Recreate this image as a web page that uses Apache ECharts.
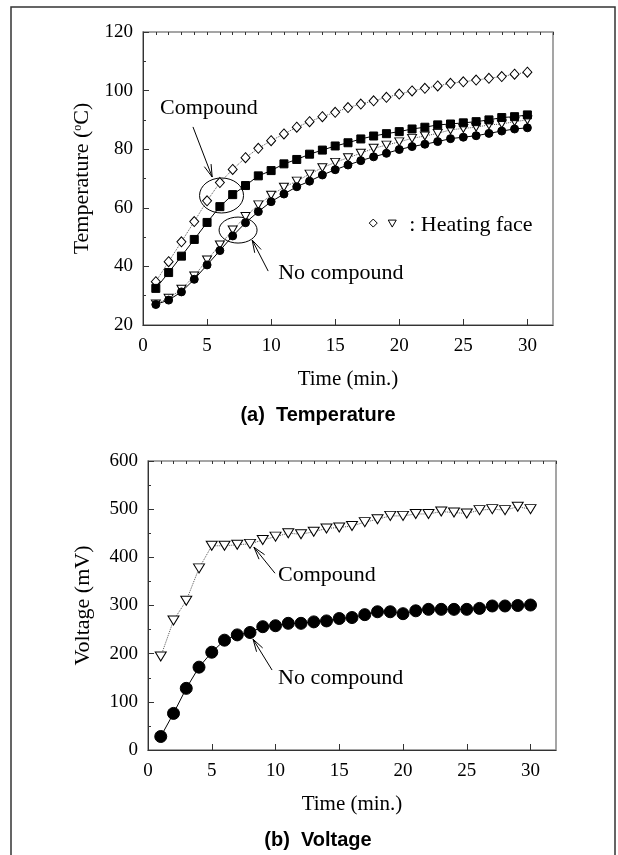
<!DOCTYPE html>
<html>
<head>
<meta charset="utf-8">
<script src="https://cdn.jsdelivr.net/npm/echarts@6/dist/echarts.min.js"></script>
<style>
html, body { margin: 0; padding: 0; background: #fff; }
#main { width: 618px; height: 855px; }
</style>
</head>
<body>
<div id="main"></div>
<script>
// time in minutes
var time = [1, 2, 3, 4, 5, 6, 7, 8, 9, 10, 11, 12, 13, 14, 15,
            16, 17, 18, 19, 20, 21, 22, 23, 24, 25, 26, 27, 28, 29, 30];

// (a) temperature, deg C
var tempCompHeat = [34.8, 41.6, 48.4, 55.3, 62.4, 68.6, 73.1, 77.1, 80.3, 82.9,
                    85.2, 87.5, 89.4, 91.1, 92.6, 94.2, 95.4, 96.5, 97.7, 98.8,
                    99.9, 100.8, 101.6, 102.5, 103.0, 103.6, 104.2, 104.8, 105.6, 106.3];
var tempComp = [32.5, 37.9, 43.5, 49.2, 55.0, 60.4, 64.5, 67.6, 70.9, 72.7,
                75.0, 76.5, 78.3, 79.7, 81.1, 82.2, 83.5, 84.5, 85.3, 86.0,
                86.9, 87.5, 88.3, 88.6, 89.0, 89.4, 90.0, 90.8, 91.1, 91.7];
var tempNoHeat = [27.2, 29.1, 32.2, 36.7, 42.2, 47.3, 52.4, 57.0, 61.0, 64.3,
                  67.0, 69.1, 71.5, 73.7, 75.5, 77.1, 78.6, 80.3, 81.4, 82.5,
                  83.7, 84.5, 85.4, 86.6, 87.1, 87.5, 88.3, 88.6, 89.4, 90.0];
var tempNo = [27.0, 28.5, 31.3, 35.6, 40.5, 45.4, 50.4, 54.9, 58.7, 62.1,
              64.7, 67.2, 69.1, 71.2, 73.0, 74.6, 76.1, 77.4, 78.6, 79.9,
              80.9, 81.7, 82.6, 83.6, 84.1, 84.6, 85.4, 86.2, 86.9, 87.3];

// (b) voltage, mV
var voltComp = [194, 269, 310, 377, 424, 424, 426, 428, 436, 443,
                450, 448, 453, 460, 462, 465, 473, 479, 486, 486,
                490, 490, 495, 493, 491, 498, 500, 498, 505, 500];
var voltNo = [28, 76, 128, 172, 203, 228, 239, 244, 256, 258,
              263, 263, 266, 268, 273, 275, 281, 287, 287, 283,
              289, 292, 292, 292, 292, 294, 299, 299, 300, 301];

var serif = '"Liberation Serif", "Times New Roman", serif';
var sans = '"Liberation Sans", Arial, sans-serif';

function pairs(ys) {
    return time.map(function (t, i) { return [t, ys[i]]; });
}

function xAxes(grid) {
    return [{
        gridIndex: grid, type: 'value', min: 0, max: 32, interval: 5,
        axisLine: { show: true, lineStyle: { color: '#333', width: 1 } },
        axisTick: { inside: true, length: 6, lineStyle: { color: '#333' } },
        axisLabel: { showMaxLabel: false, margin: 12, fontFamily: serif, fontSize: 19, color: '#000' },
        splitLine: { show: false },
        name: 'Time (min.)', nameLocation: 'middle', nameGap: 44,
        nameTextStyle: { fontFamily: serif, fontSize: 21, color: '#000' }
    }, {
        gridIndex: grid, type: 'value', min: 0, max: 32, interval: 1,
        axisLine: { show: false },
        axisTick: { inside: true, length: 3, lineStyle: { color: '#333' } },
        axisLabel: { show: false },
        splitLine: { show: false }
    }];
}

function yAxis(grid, min, max, step, name, gap) {
    return {
        gridIndex: grid, type: 'value', min: min, max: max, interval: step,
        axisLine: { show: true, lineStyle: { color: '#333', width: 1 } },
        axisTick: { inside: true, length: 6, lineStyle: { color: '#333' } },
        minorTick: { show: true, splitNumber: 2, length: 3, lineStyle: { color: '#333' } },
        axisLabel: { margin: 10, fontFamily: serif, fontSize: 19, color: '#000' },
        splitLine: { show: false },
        name: name, nameLocation: 'middle', nameGap: gap, nameRotate: 90,
        nameTextStyle: {
            fontFamily: serif, fontSize: 22, color: '#000',
            rich: { s: { fontFamily: serif, fontSize: 12, verticalAlign: 'top', color: '#000' } }
        }
    };
}

function line(name, xi, yi, ys, symbol, size, filled, dotted, rot) {
    return {
        name: name, type: 'line', xAxisIndex: xi, yAxisIndex: yi,
        data: pairs(ys), symbol: symbol, symbolSize: size, symbolRotate: rot || 0,
        showSymbol: true,
        itemStyle: { color: filled ? '#000' : '#fff', borderColor: '#000', borderWidth: 1 },
        lineStyle: { color: dotted ? '#555' : '#000', width: 1, type: dotted ? 'dotted' : 'solid' },
        emphasis: { disabled: true }
    };
}

var chart = echarts.init(document.getElementById('main'));

var option = {
    animation: false,
    backgroundColor: '#fff',
    title: [{
        text: '(a)  Temperature', left: 313, top: 400, textAlign: 'center',
        textStyle: { fontFamily: sans, fontWeight: 'bold', fontSize: 20, color: '#000' }
    }, {
        text: '(b)  Voltage', left: 313, top: 825, textAlign: 'center',
        textStyle: { fontFamily: sans, fontWeight: 'bold', fontSize: 20, color: '#000' }
    }],
    grid: [
        { left: 143, top: 32, width: 410, height: 293, show: true, borderColor: '#888', borderWidth: 1.5, backgroundColor: 'transparent' },
        { left: 148, top: 461, width: 408, height: 289, show: true, borderColor: '#888', borderWidth: 1.5, backgroundColor: 'transparent' }
    ],
    xAxis: xAxes(0).concat(xAxes(1)),
    yAxis: [
        yAxis(0, 20, 120, 20, 'Temperature ({s|o}C)', 45),
        yAxis(1, 0, 600, 100, 'Voltage (mV)', 54)
    ],
    series: [
        line('Compound heating face', 0, 0, tempCompHeat, 'diamond', [9, 10], false, true),
        line('No compound heating face', 0, 0, tempNoHeat, 'triangle', [9, 8], false, true, 180),
        line('Compound', 0, 0, tempComp, 'rect', 8, true, false),
        line('No compound', 0, 0, tempNo, 'circle', 8, true, false),
        line('Compound', 2, 1, voltComp, 'triangle', [11, 9], false, true, 180),
        line('No compound', 2, 1, voltNo, 'circle', 12, true, false)
    ]
};
chart.setOption(option);

// annotations, placed in data coordinates
function px(g, p) {
    return g === 0
        ? chart.convertToPixel({ xAxisIndex: 0, yAxisIndex: 0 }, p)
        : chart.convertToPixel({ xAxisIndex: 2, yAxisIndex: 1 }, p);
}

function label(g, p, txt) {
    var q = px(g, p);
    return { type: 'text', x: q[0], y: q[1], style: { text: txt, fontFamily: serif, fontSize: 22, fill: '#000', textVerticalAlign: 'middle' } };
}

function arrow(g, from, to) {
    var a = px(g, from), b = px(g, to);
    var ang = Math.atan2(a[1] - b[1], a[0] - b[0]);
    var L = 13, w = 0.28;
    var h1 = [b[0] + L * Math.cos(ang + w), b[1] + L * Math.sin(ang + w)];
    var h2 = [b[0] + L * Math.cos(ang - w), b[1] + L * Math.sin(ang - w)];
    return [
        { type: 'line', shape: { x1: a[0], y1: a[1], x2: b[0], y2: b[1] }, style: { stroke: '#000', lineWidth: 1 } },
        { type: 'polyline', shape: { points: [h1, b, h2] }, style: { stroke: '#000', lineWidth: 1, fill: null } }
    ];
}

function ring(g, p, rx, ry) {
    var q = px(g, p);
    return { type: 'ellipse', shape: { cx: q[0], cy: q[1], rx: rx, ry: ry }, style: { stroke: '#000', lineWidth: 1, fill: null } };
}

var els = [];
els.push({ type: 'rect', shape: { x: 11, y: 7, width: 604, height: 880 }, style: { stroke: '#333', lineWidth: 1.5, fill: null }, z: 10 });
els.push(label(0, [1.33, 94], 'Compound'));
els = els.concat(arrow(0, [3.9, 87.6], [5.4, 70.5]));
els.push(ring(0, [6.13, 64.2], 22, 17.5));
els.push(label(0, [10.55, 37.7], 'No compound'));
els = els.concat(arrow(0, [9.77, 38.4], [8.52, 49.0]));
els.push(ring(0, [7.42, 52.4], 19, 13));

var lg = px(0, [20.78, 54.1]);
els.push({ type: 'polygon', shape: { points: [[lg[0] - 36, lg[1] - 6], [lg[0] - 32, lg[1] - 2], [lg[0] - 36, lg[1] + 2], [lg[0] - 40, lg[1] - 2]] }, style: { stroke: '#000', lineWidth: 1, fill: '#fff' } });
els.push({ type: 'polygon', shape: { points: [[lg[0] - 21, lg[1] - 5], [lg[0] - 13, lg[1] - 5], [lg[0] - 17, lg[1] + 2]] }, style: { stroke: '#000', lineWidth: 1, fill: '#fff' } });
els.push({ type: 'text', x: lg[0], y: lg[1], style: { text: ': Heating face', fontFamily: serif, fontSize: 22, fill: '#000', textVerticalAlign: 'middle' } });

els.push(label(1, [10.2, 363], 'Compound'));
els = els.concat(arrow(1, [9.96, 367], [8.31, 421]));
els.push(label(1, [10.2, 149.5], 'No compound'));
els = els.concat(arrow(1, [9.73, 166], [8.24, 230]));

chart.setOption({ graphic: { elements: els } });
</script>
</body>
</html>
